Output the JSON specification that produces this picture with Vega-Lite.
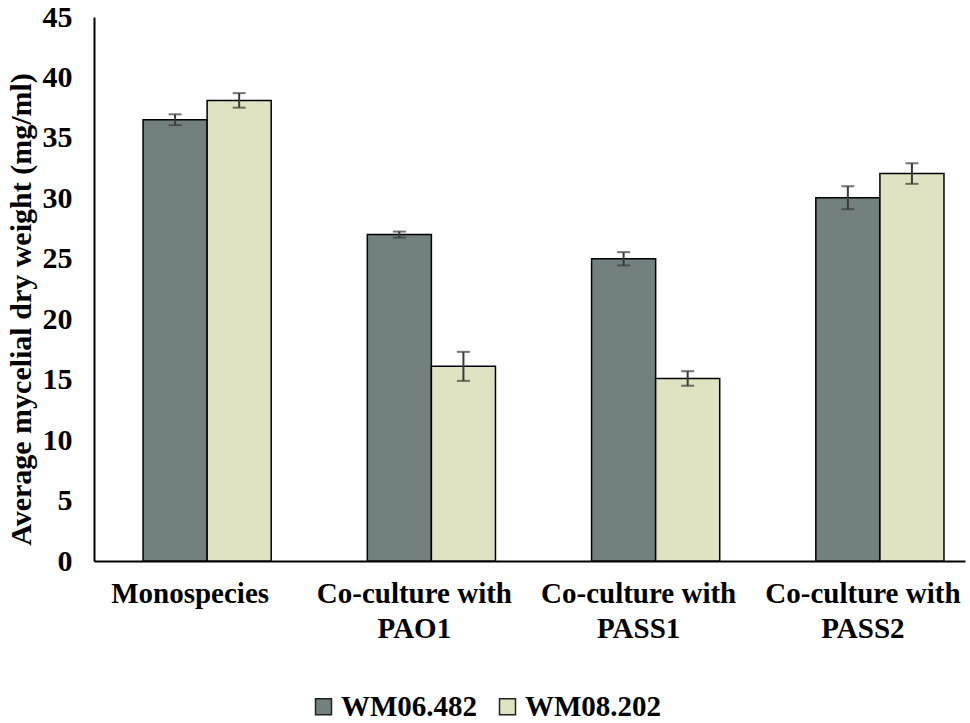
{
  "$schema": "https://vega.github.io/schema/vega-lite/v6.json",
  "width": 871,
  "height": 544,
  "autosize": {"type": "none"},
  "padding": {"left": 94, "top": 17, "right": 5, "bottom": 162},
  "background": "white",
  "config": {
    "font": "Liberation Serif",
    "view": {"stroke": null}
  },
  "data": {
    "values": [
      {"group": "Monospecies", "strain": "WM06.482", "weight": 36.5, "lo": 36.05, "hi": 36.95},
      {"group": "Monospecies", "strain": "WM08.202", "weight": 38.1, "lo": 37.5, "hi": 38.7},
      {"group": "Co-culture with PAO1", "strain": "WM06.482", "weight": 27.0, "lo": 26.75, "hi": 27.25},
      {"group": "Co-culture with PAO1", "strain": "WM08.202", "weight": 16.1, "lo": 14.9, "hi": 17.3},
      {"group": "Co-culture with PASS1", "strain": "WM06.482", "weight": 25.0, "lo": 24.45, "hi": 25.55},
      {"group": "Co-culture with PASS1", "strain": "WM08.202", "weight": 15.1, "lo": 14.5, "hi": 15.7},
      {"group": "Co-culture with PASS2", "strain": "WM06.482", "weight": 30.05, "lo": 29.1, "hi": 31.0},
      {"group": "Co-culture with PASS2", "strain": "WM08.202", "weight": 32.05, "lo": 31.2, "hi": 32.9}
    ]
  },
  "encoding": {
    "x": {
      "field": "group",
      "type": "nominal",
      "sort": null,
      "scale": {"paddingInner": 0.4286, "paddingOuter": 0.15625, "align": 0.7},
      "axis": {
        "title": null,
        "labelAngle": 0,
        "labelFont": "Liberation Serif",
        "labelFontWeight": "bold",
        "labelFontSize": 29,
        "labelColor": "black",
        "labelPadding": 18,
        "labelOffset": -17,
        "labelBaseline": "top",
        "labelLineHeight": 35,
        "labelLimit": 0,
        "labelExpr": "datum.label == 'Monospecies' ? datum.label : [slice(datum.label, 0, 15), slice(datum.label, 16)]",
        "ticks": false,
        "domainColor": "black",
        "domainWidth": 2,
        "grid": false
      }
    },
    "xOffset": {"field": "strain", "type": "nominal", "scale": {"paddingInner": 0, "paddingOuter": 0}}
  },
  "layer": [
    {
      "mark": {"type": "bar", "stroke": "black", "strokeWidth": 1.5},
      "encoding": {
        "y": {
          "field": "weight",
          "type": "quantitative",
          "scale": {"domain": [0, 45]},
          "axis": {
            "values": [0, 5, 10, 15, 20, 25, 30, 35, 40, 45],
            "title": "Average mycelial dry weight (mg/ml)",
            "titleFont": "Liberation Serif",
            "titleFontWeight": "bold",
            "titleFontSize": 30,
            "titleColor": "black",
            "titlePadding": 6,
            "titleY": 292,
            "labelFont": "Liberation Serif",
            "labelFontWeight": "bold",
            "labelFontSize": 30,
            "labelColor": "black",
            "labelPadding": 22,
            "ticks": false,
            "grid": false,
            "domainColor": "black",
            "domainWidth": 2
          }
        },
        "color": {
          "field": "strain",
          "type": "nominal",
          "scale": {"domain": ["WM06.482", "WM08.202"], "range": ["#72817f", "#dfe3c1"]},
          "legend": {
            "title": null,
            "orient": "none",
            "direction": "horizontal",
            "legendX": 215,
            "legendY": 675,
            "symbolType": "square",
            "symbolSize": 256,
            "symbolStrokeColor": "#222222",
            "symbolStrokeWidth": 1.5,
            "labelFont": "Liberation Serif",
            "labelFontWeight": "bold",
            "labelFontSize": 29,
            "labelColor": "black",
            "labelOffset": 3,
            "labelLimit": 0,
            "columnPadding": 15
          }
        }
      }
    },
    {
      "mark": {"type": "rule", "color": "#3a3a3a", "strokeWidth": 2},
      "encoding": {
        "y": {"field": "lo", "type": "quantitative"},
        "y2": {"field": "hi"}
      }
    },
    {
      "mark": {"type": "tick", "color": "#3a3a3a", "thickness": 2, "size": 13},
      "encoding": {"y": {"field": "lo", "type": "quantitative"}}
    },
    {
      "mark": {"type": "tick", "color": "#3a3a3a", "thickness": 2, "size": 13},
      "encoding": {"y": {"field": "hi", "type": "quantitative"}}
    }
  ]
}
